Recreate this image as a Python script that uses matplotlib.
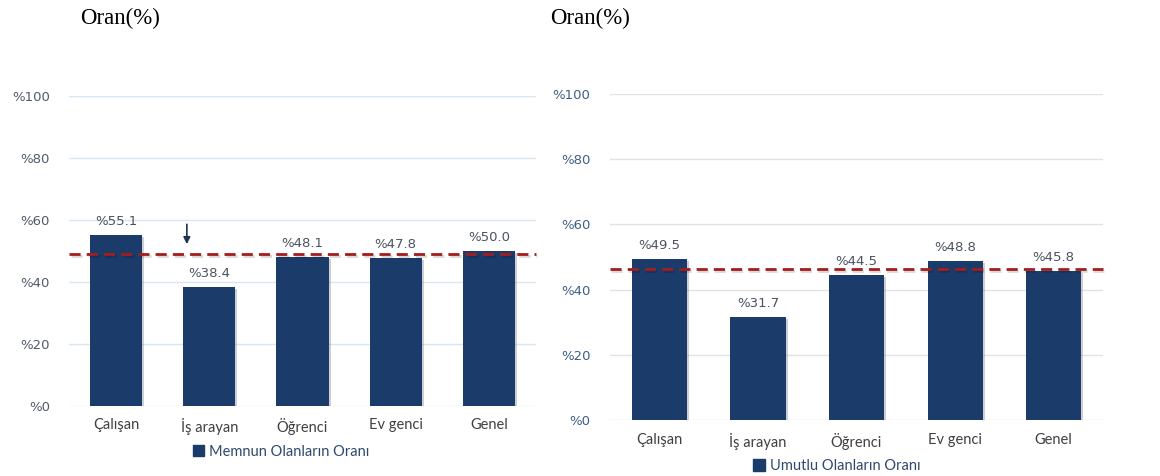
import matplotlib
matplotlib.use("Agg")
import matplotlib.pyplot as plt
import matplotlib.patheffects as pe

categories = ["Çalışan", "İş arayan", "Öğrenci", "Ev genci", "Genel"]
memnun = [55.1, 38.4, 48.1, 47.8, 50.0]
umutlu = [49.5, 31.7, 44.5, 48.8, 45.8]
memnun_ref = 49.0
umutlu_ref = 46.3
yticks = [0, 20, 40, 60, 80, 100]
ytick_labels = ["%" + str(t) for t in yticks]

BAR = "#1b3b6b"
RED = "#a21e1e"

plt.rcParams['font.family'] = ['Lato', 'DejaVu Sans']

fig = plt.figure(figsize=(11.6, 4.76), dpi=100)
ax1 = fig.add_axes([0.0598, 0.1471, 0.4019, 0.6513])
ax2 = fig.add_axes([0.5259, 0.1176, 0.4250, 0.6849])


def draw(ax, vals, ref, label, grid_col, tick_col, leg_xy):
    x = range(len(categories))
    bars = ax.bar(x, vals, width=0.56, color=BAR, zorder=3,
                  path_effects=[pe.SimplePatchShadow(offset=(1.5, -1.5), alpha=0.2), pe.Normal()])
    for b, v in zip(bars, vals):
        ax.annotate("%" + "%.1f" % v, (b.get_x() + b.get_width() / 2, v),
                    xytext=(0, 5), textcoords="offset points", ha="center", va="bottom",
                    fontsize=9.5, family="DejaVu Sans", color="#4a5360", zorder=5)
    ax.axhline(ref, color=RED, lw=2, ls=(0, (4, 2.2)), zorder=4, clip_on=False,
               path_effects=[pe.SimpleLineShadow(offset=(1, -1.5), alpha=0.15), pe.Normal()])
    ax.set_xlim(-0.5, len(categories) - 0.5)
    ax.set_ylim(0, 100)
    ax.set_yticks(yticks)
    ax.set_yticklabels(ytick_labels, family="DejaVu Sans")
    ax.set_xticks(list(x))
    ax.set_xticklabels(categories)
    ax.tick_params(axis="y", length=0, pad=14, labelsize=9.5, labelcolor=tick_col)
    ax.tick_params(axis="x", length=0, pad=9, labelsize=10.5, labelcolor="#404040")
    ax.grid(axis="y", color=grid_col, lw=1, zorder=0)
    for s in ax.spines.values():
        s.set_visible(False)
    # legend handle drawn without the bar shadow
    handle = plt.Rectangle((0, 0), 1, 1, color=BAR)
    leg = ax.legend([handle], [label], loc="center", bbox_to_anchor=leg_xy, frameon=False,
                    fontsize=10.5, handlelength=0.8, handleheight=0.8, handletextpad=0.3)
    for t in leg.get_texts():
        t.set_color("#2f4a6e")


draw(ax1, memnun, memnun_ref, "Memnun Olanların Oranı", "#d8e6f3", "#505a6a", (0.454, -0.148))
draw(ax2, umutlu, umutlu_ref, "Umutlu Olanların Oranı", "#e2e2e2", "#3f5f86", (0.46, -0.141))

# arrow pointing down to the reference line
ax1.annotate("", xy=(0.76, 51.3), xytext=(0.76, 59.5),
             arrowprops=dict(arrowstyle="-|>", color="#1f3350", lw=1.2, mutation_scale=10))

fig.text(0.069, 0.962, "Oran(%)", family="Liberation Serif", fontsize=16.5, va="center", ha="left")
fig.text(0.474, 0.962, "Oran(%)", family="Liberation Serif", fontsize=16.5, va="center", ha="left")

fig.savefig("out.png", dpi=100, facecolor="white")
